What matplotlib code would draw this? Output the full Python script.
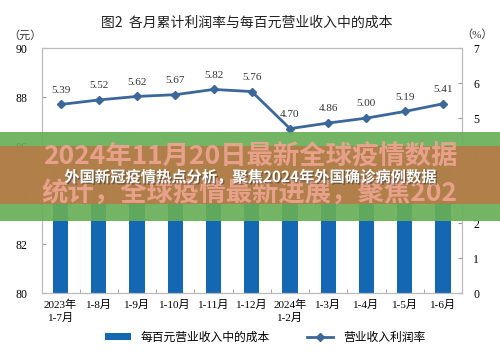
import matplotlib
matplotlib.use('Agg')
import matplotlib.pyplot as plt
import matplotlib.patheffects as pe
from matplotlib.patches import Rectangle
import numpy as np

plt.rcParams['font.family'] = ['Liberation Serif', 'Noto Sans CJK SC']

months = ['2023年\n1-7月', '1-8月', '1-9月', '1-10月', '1-11月', '1-12月',
          '2024年\n1-2月', '1-3月', '1-4月', '1-5月', '1-6月']
# bar tops are hidden behind the banner, values estimated
cost = [85.07, 85.10, 85.08, 85.13, 85.17, 84.76, 85.38, 85.31, 85.44, 85.52, 85.32]
margin = [5.39, 5.52, 5.62, 5.67, 5.82, 5.76, 4.70, 4.86, 5.00, 5.19, 5.41]

bar_color = '#1468b3'
line_color = '#3c679a'

fig = plt.figure(figsize=(5, 3.54), dpi=100)
ax = fig.add_axes([0.083, 0.172, 0.841, 0.692])
x = np.arange(len(months))

ax.bar(x, cost, 0.4, color=bar_color, label='每百元营业收入中的成本', zorder=2)
ax.set_ylim(80, 90)
ax.set_yticks(range(80, 91, 2))
ax.set_xlim(-0.5, len(months) - 0.5)
ax.set_xticks(x)
ax.set_xticklabels(months, fontsize=8, linespacing=1.3)
ax.set_xticks(np.arange(0.5, len(months) - 1, 1), minor=True)
ax.tick_params(axis='x', which='major', length=0, pad=5)
ax.tick_params(axis='x', which='minor', direction='in', length=3, color='#999999')
ax.tick_params(axis='y', direction='in', length=3, color='#999999', labelsize=8.5, pad=10)

ax2 = ax.twinx()
ax2.plot(x, margin, color=line_color, lw=2, marker='D', ms=4, label='营业收入利润率', zorder=3)
ax2.set_ylim(0, 7)
ax2.set_yticks(range(0, 8))
ax2.tick_params(axis='y', direction='in', length=3, color='#999999', labelsize=8.5, pad=8)
for xi, v in zip(x, margin):
    ax2.annotate(f'{v:.2f}', (xi, v), xytext=(0, 7), textcoords='offset points',
                 ha='center', va='bottom', fontsize=8, color='#333333')

for a in (ax, ax2):
    for s in a.spines.values():
        s.set_color('#bbbbbb')
        s.set_linewidth(0.8)

fig.text(0.493, 1 - 23 / 354, '图2  各月累计利润率与每百元营业收入中的成本',
         ha='center', va='center', fontsize=10, family=['Noto Sans CJK SC'], color='#222222')
fig.text(25 / 500, 1 - 35 / 354, '（元）', ha='center', va='center', fontsize=8, color='#333333')
fig.text(477 / 500, 1 - 35 / 354, '（%）', ha='center', va='center', fontsize=8, color='#333333')

h1, l1 = ax.get_legend_handles_labels()
h2, l2 = ax2.get_legend_handles_labels()
fig.legend(h1 + h2, l1 + l2, loc='center', bbox_to_anchor=(0.53, 1 - 338 / 354), ncol=2,
           frameon=False, fontsize=8.5, columnspacing=3.2, handlelength=2.2, handleheight=0.5)

# overlay banner
fig.add_artist(Rectangle((0, 1 - 221 / 354), 1, 89 / 354, transform=fig.transFigure,
                         facecolor='#68ae58', alpha=0.92, zorder=10, lw=0))
fig.add_artist(Rectangle((0, 1 - 204 / 354), 1, 58 / 354, transform=fig.transFigure,
                         facecolor='#b87b47', alpha=0.9, zorder=11, lw=0))
big_font = ['Noto Sans CJK SC']
fig.text(0.5, 1 - 157 / 354, '2024年11月20日最新全球疫情数据', ha='center', va='center',
         fontsize=19, fontweight='bold', family=big_font, color='#eea592', alpha=0.9, zorder=12)
fig.text(0.5, 1 - 194 / 354, '统计，全球疫情最新进展，聚焦202', ha='center', va='center',
         fontsize=19, fontweight='bold', family=big_font, color='#eea592', alpha=0.9, zorder=12)
fig.text(0.5, 1 - 177 / 354, '外国新冠疫情热点分析，聚焦2024年外国确诊病例数据', ha='center',
         va='center', fontsize=11, fontweight='bold', family=big_font, color='white', zorder=13,
         path_effects=[pe.withSimplePatchShadow(offset=(1, -1), shadow_rgbFace='#333333', alpha=0.5)])

fig.savefig('out.png', dpi=100)
